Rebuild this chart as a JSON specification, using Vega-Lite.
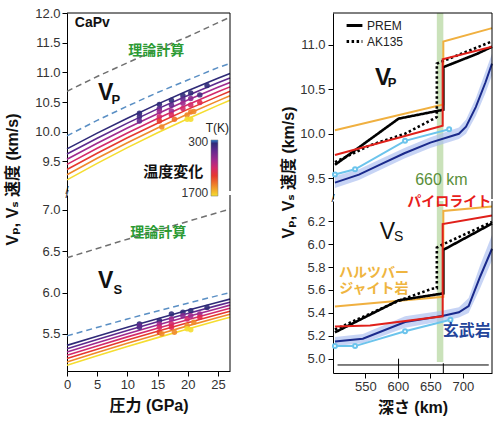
{
  "$schema": "https://vega.github.io/schema/vega-lite/v6.json",
  "padding": {"left": 4, "top": 7, "right": 5, "bottom": 5},
  "background": "white",
  "config": {
    "view": {"stroke": null},
    "font": "Liberation Sans",
    "axis": {"labelFont": "Liberation Sans", "labelFontSize": 13, "labelColor": "#333", "labelOverlap": false, "labelFlush": false, "tickCount": 30, "tickColor": "#000", "domainColor": "#000", "tickSize": 5, "grid": false, "labelPadding": 2, "titleFont": "Liberation Sans, Noto Sans CJK JP, DejaVu Sans", "titleFontSize": 16, "titleFontWeight": "bold", "titleColor": "#111"}
  },
  "datasets": {
    "ld": [
      {"k": "theory", "p": "P", "x": 0, "v": 10.68}, {"k": "theory", "p": "P", "x": 5, "v": 10.93}, {"k": "theory", "p": "P", "x": 10, "v": 11.16}, {"k": "theory", "p": "P", "x": 15, "v": 11.39}, {"k": "theory", "p": "P", "x": 20, "v": 11.6}, {"k": "theory", "p": "P", "x": 27, "v": 11.93},
      {"k": "blue", "p": "P", "x": 0, "v": 9.93}, {"k": "blue", "p": "P", "x": 5, "v": 10.19}, {"k": "blue", "p": "P", "x": 10, "v": 10.43}, {"k": "blue", "p": "P", "x": 15, "v": 10.66}, {"k": "blue", "p": "P", "x": 20, "v": 10.87}, {"k": "blue", "p": "P", "x": 25, "v": 11.08}, {"k": "blue", "p": "P", "x": 27, "v": 11.15},
      {"k": "theory", "p": "S", "x": 0, "v": 6.42}, {"k": "theory", "p": "S", "x": 10, "v": 6.645}, {"k": "theory", "p": "S", "x": 20, "v": 6.86}, {"k": "theory", "p": "S", "x": 27, "v": 7.01},
      {"k": "blue", "p": "S", "x": 0, "v": 5.475}, {"k": "blue", "p": "S", "x": 10, "v": 5.68}, {"k": "blue", "p": "S", "x": 20, "v": 5.87}, {"k": "blue", "p": "S", "x": 27, "v": 6.0}
    ],
    "ll": [
      {"p": "P", "t": 380, "x": 0, "v": 9.71}, {"p": "P", "t": 380, "x": 5, "v": 9.975}, {"p": "P", "t": 380, "x": 10, "v": 10.227}, {"p": "P", "t": 380, "x": 15, "v": 10.464}, {"p": "P", "t": 380, "x": 20, "v": 10.688}, {"p": "P", "t": 380, "x": 25, "v": 10.899}, {"p": "P", "t": 380, "x": 27, "v": 10.98},
      {"p": "P", "t": 550, "x": 0, "v": 9.623}, {"p": "P", "t": 550, "x": 5, "v": 9.89}, {"p": "P", "t": 550, "x": 10, "v": 10.144}, {"p": "P", "t": 550, "x": 15, "v": 10.384}, {"p": "P", "t": 550, "x": 20, "v": 10.61}, {"p": "P", "t": 550, "x": 25, "v": 10.823}, {"p": "P", "t": 550, "x": 27, "v": 10.905},
      {"p": "P", "t": 800, "x": 0, "v": 9.536}, {"p": "P", "t": 800, "x": 5, "v": 9.805}, {"p": "P", "t": 800, "x": 10, "v": 10.062}, {"p": "P", "t": 800, "x": 15, "v": 10.303}, {"p": "P", "t": 800, "x": 20, "v": 10.532}, {"p": "P", "t": 800, "x": 25, "v": 10.747}, {"p": "P", "t": 800, "x": 27, "v": 10.83},
      {"p": "P", "t": 1000, "x": 0, "v": 9.449}, {"p": "P", "t": 1000, "x": 5, "v": 9.721}, {"p": "P", "t": 1000, "x": 10, "v": 9.979}, {"p": "P", "t": 1000, "x": 15, "v": 10.223}, {"p": "P", "t": 1000, "x": 20, "v": 10.454}, {"p": "P", "t": 1000, "x": 25, "v": 10.671}, {"p": "P", "t": 1000, "x": 27, "v": 10.755},
      {"p": "P", "t": 1200, "x": 0, "v": 9.362}, {"p": "P", "t": 1200, "x": 5, "v": 9.636}, {"p": "P", "t": 1200, "x": 10, "v": 9.897}, {"p": "P", "t": 1200, "x": 15, "v": 10.143}, {"p": "P", "t": 1200, "x": 20, "v": 10.376}, {"p": "P", "t": 1200, "x": 25, "v": 10.595}, {"p": "P", "t": 1200, "x": 27, "v": 10.68},
      {"p": "P", "t": 1450, "x": 0, "v": 9.275}, {"p": "P", "t": 1450, "x": 5, "v": 9.551}, {"p": "P", "t": 1450, "x": 10, "v": 9.814}, {"p": "P", "t": 1450, "x": 15, "v": 10.062}, {"p": "P", "t": 1450, "x": 20, "v": 10.297}, {"p": "P", "t": 1450, "x": 25, "v": 10.519}, {"p": "P", "t": 1450, "x": 27, "v": 10.605},
      {"p": "P", "t": 1700, "x": 0, "v": 9.188}, {"p": "P", "t": 1700, "x": 5, "v": 9.466}, {"p": "P", "t": 1700, "x": 10, "v": 9.731}, {"p": "P", "t": 1700, "x": 15, "v": 9.982}, {"p": "P", "t": 1700, "x": 20, "v": 10.219}, {"p": "P", "t": 1700, "x": 25, "v": 10.443}, {"p": "P", "t": 1700, "x": 27, "v": 10.53},
      {"p": "S", "t": 380, "x": 0, "v": 5.36}, {"p": "S", "t": 380, "x": 5, "v": 5.471}, {"p": "S", "t": 380, "x": 10, "v": 5.579}, {"p": "S", "t": 380, "x": 15, "v": 5.683}, {"p": "S", "t": 380, "x": 20, "v": 5.784}, {"p": "S", "t": 380, "x": 25, "v": 5.881}, {"p": "S", "t": 380, "x": 27, "v": 5.92},
      {"p": "S", "t": 550, "x": 0, "v": 5.32}, {"p": "S", "t": 550, "x": 5, "v": 5.432}, {"p": "S", "t": 550, "x": 10, "v": 5.54}, {"p": "S", "t": 550, "x": 15, "v": 5.645}, {"p": "S", "t": 550, "x": 20, "v": 5.746}, {"p": "S", "t": 550, "x": 25, "v": 5.844}, {"p": "S", "t": 550, "x": 27, "v": 5.883},
      {"p": "S", "t": 800, "x": 0, "v": 5.28}, {"p": "S", "t": 800, "x": 5, "v": 5.392}, {"p": "S", "t": 800, "x": 10, "v": 5.501}, {"p": "S", "t": 800, "x": 15, "v": 5.607}, {"p": "S", "t": 800, "x": 20, "v": 5.709}, {"p": "S", "t": 800, "x": 25, "v": 5.807}, {"p": "S", "t": 800, "x": 27, "v": 5.847},
      {"p": "S", "t": 1000, "x": 0, "v": 5.24}, {"p": "S", "t": 1000, "x": 5, "v": 5.353}, {"p": "S", "t": 1000, "x": 10, "v": 5.463}, {"p": "S", "t": 1000, "x": 15, "v": 5.568}, {"p": "S", "t": 1000, "x": 20, "v": 5.671}, {"p": "S", "t": 1000, "x": 25, "v": 5.77}, {"p": "S", "t": 1000, "x": 27, "v": 5.81},
      {"p": "S", "t": 1200, "x": 0, "v": 5.2}, {"p": "S", "t": 1200, "x": 5, "v": 5.313}, {"p": "S", "t": 1200, "x": 10, "v": 5.424}, {"p": "S", "t": 1200, "x": 15, "v": 5.53}, {"p": "S", "t": 1200, "x": 20, "v": 5.634}, {"p": "S", "t": 1200, "x": 25, "v": 5.733}, {"p": "S", "t": 1200, "x": 27, "v": 5.773},
      {"p": "S", "t": 1450, "x": 0, "v": 5.16}, {"p": "S", "t": 1450, "x": 5, "v": 5.274}, {"p": "S", "t": 1450, "x": 10, "v": 5.385}, {"p": "S", "t": 1450, "x": 15, "v": 5.492}, {"p": "S", "t": 1450, "x": 20, "v": 5.596}, {"p": "S", "t": 1450, "x": 25, "v": 5.697}, {"p": "S", "t": 1450, "x": 27, "v": 5.737},
      {"p": "S", "t": 1700, "x": 0, "v": 5.12}, {"p": "S", "t": 1700, "x": 5, "v": 5.235}, {"p": "S", "t": 1700, "x": 10, "v": 5.346}, {"p": "S", "t": 1700, "x": 15, "v": 5.454}, {"p": "S", "t": 1700, "x": 20, "v": 5.558}, {"p": "S", "t": 1700, "x": 25, "v": 5.66}, {"p": "S", "t": 1700, "x": 27, "v": 5.7}
    ],
    "lp": [
      {"p": "P", "x": 12.0, "v": 10.31, "t": 380}, {"p": "P", "x": 12.0, "v": 10.25, "t": 450}, {"p": "P", "x": 12.0, "v": 10.18, "t": 550},
      {"p": "P", "x": 15.3, "v": 10.46, "t": 380}, {"p": "P", "x": 15.3, "v": 10.39, "t": 550}, {"p": "P", "x": 15.3, "v": 10.34, "t": 800}, {"p": "P", "x": 15.3, "v": 10.25, "t": 1000}, {"p": "P", "x": 15.3, "v": 10.18, "t": 1200}, {"p": "P", "x": 15.7, "v": 10.08, "t": 1450},
      {"p": "P", "x": 17.3, "v": 10.53, "t": 380}, {"p": "P", "x": 17.3, "v": 10.45, "t": 550}, {"p": "P", "x": 17.3, "v": 10.35, "t": 800}, {"p": "P", "x": 17.3, "v": 10.28, "t": 1050}, {"p": "P", "x": 17.8, "v": 10.21, "t": 1350},
      {"p": "P", "x": 19.2, "v": 10.61, "t": 380}, {"p": "P", "x": 19.2, "v": 10.55, "t": 550}, {"p": "P", "x": 19.2, "v": 10.48, "t": 800}, {"p": "P", "x": 19.2, "v": 10.39, "t": 1000}, {"p": "P", "x": 19.9, "v": 10.28, "t": 1450}, {"p": "P", "x": 19.9, "v": 10.21, "t": 1700},
      {"p": "P", "x": 20.5, "v": 10.65, "t": 380}, {"p": "P", "x": 20.5, "v": 10.56, "t": 700}, {"p": "P", "x": 20.5, "v": 10.45, "t": 1000}, {"p": "P", "x": 20.5, "v": 10.33, "t": 1400}, {"p": "P", "x": 20.5, "v": 10.21, "t": 1700}, {"p": "P", "x": 21.0, "v": 10.34, "t": 1450},
      {"p": "P", "x": 22.0, "v": 10.62, "t": 450}, {"p": "P", "x": 22.0, "v": 10.49, "t": 1100}, {"p": "P", "x": 23.2, "v": 10.78, "t": 380},
      {"p": "S", "x": 12.0, "v": 5.62, "t": 380}, {"p": "S", "x": 12.0, "v": 5.58, "t": 450}, {"p": "S", "x": 12.0, "v": 5.6, "t": 550},
      {"p": "S", "x": 15.3, "v": 5.66, "t": 380}, {"p": "S", "x": 15.3, "v": 5.62, "t": 800}, {"p": "S", "x": 15.3, "v": 5.58, "t": 1000}, {"p": "S", "x": 15.3, "v": 5.52, "t": 1200}, {"p": "S", "x": 15.7, "v": 5.5, "t": 1450},
      {"p": "S", "x": 17.3, "v": 5.74, "t": 380}, {"p": "S", "x": 17.3, "v": 5.68, "t": 800}, {"p": "S", "x": 17.3, "v": 5.62, "t": 1000}, {"p": "S", "x": 17.3, "v": 5.58, "t": 1100}, {"p": "S", "x": 17.8, "v": 5.52, "t": 1450},
      {"p": "S", "x": 19.2, "v": 5.76, "t": 380}, {"p": "S", "x": 19.2, "v": 5.72, "t": 700}, {"p": "S", "x": 19.9, "v": 5.68, "t": 1000}, {"p": "S", "x": 19.9, "v": 5.6, "t": 1450}, {"p": "S", "x": 19.9, "v": 5.56, "t": 1700},
      {"p": "S", "x": 20.5, "v": 5.78, "t": 380}, {"p": "S", "x": 20.5, "v": 5.72, "t": 800}, {"p": "S", "x": 20.5, "v": 5.55, "t": 1700}, {"p": "S", "x": 21.0, "v": 5.64, "t": 1450},
      {"p": "S", "x": 22.0, "v": 5.74, "t": 800}, {"p": "S", "x": 22.0, "v": 5.7, "t": 1100}, {"p": "S", "x": 23.2, "v": 5.82, "t": 380}
    ],
    "rl": [
      {"p": "P", "s": "harz", "o": 1, "d": 503, "v": 10.04}, {"p": "P", "s": "harz", "o": 2, "d": 670, "v": 10.33}, {"p": "P", "s": "harz", "o": 3, "d": 670, "v": 11.04}, {"p": "P", "s": "harz", "o": 4, "d": 745, "v": 11.19},
      {"p": "P", "s": "pyr", "o": 1, "d": 503, "v": 9.76}, {"p": "P", "s": "pyr", "o": 2, "d": 669, "v": 10.09}, {"p": "P", "s": "pyr", "o": 3, "d": 669, "v": 10.84}, {"p": "P", "s": "pyr", "o": 4, "d": 745, "v": 10.98},
      {"p": "P", "s": "lb", "o": 1, "d": 503, "v": 9.54}, {"p": "P", "s": "lb", "o": 2, "d": 534, "v": 9.6}, {"p": "P", "s": "lb", "o": 3, "d": 611, "v": 9.92}, {"p": "P", "s": "lb", "o": 4, "d": 679, "v": 10.05},
      {"p": "P", "s": "navy", "o": 1, "d": 503, "v": 9.45}, {"p": "P", "s": "navy", "o": 2, "d": 540, "v": 9.54}, {"p": "P", "s": "navy", "o": 3, "d": 575, "v": 9.66}, {"p": "P", "s": "navy", "o": 4, "d": 610, "v": 9.78}, {"p": "P", "s": "navy", "o": 5, "d": 650, "v": 9.9}, {"p": "P", "s": "navy", "o": 6, "d": 694, "v": 10.0}, {"p": "P", "s": "navy", "o": 7, "d": 705, "v": 10.08}, {"p": "P", "s": "navy", "o": 8, "d": 720, "v": 10.3}, {"p": "P", "s": "navy", "o": 9, "d": 735, "v": 10.58}, {"p": "P", "s": "navy", "o": 10, "d": 745, "v": 10.79},
      {"p": "P", "s": "PREM", "o": 1, "d": 503, "v": 9.65}, {"p": "P", "s": "PREM", "o": 2, "d": 601, "v": 10.17}, {"p": "P", "s": "PREM", "o": 3, "d": 670, "v": 10.27}, {"p": "P", "s": "PREM", "o": 4, "d": 670, "v": 10.75}, {"p": "P", "s": "PREM", "o": 5, "d": 722, "v": 10.9}, {"p": "P", "s": "PREM", "o": 6, "d": 745, "v": 10.98},
      {"p": "P", "s": "AK135", "o": 1, "d": 503, "v": 9.68}, {"p": "P", "s": "AK135", "o": 2, "d": 557, "v": 9.87}, {"p": "P", "s": "AK135", "o": 3, "d": 611, "v": 10.0}, {"p": "P", "s": "AK135", "o": 4, "d": 658, "v": 10.18}, {"p": "P", "s": "AK135", "o": 5, "d": 660, "v": 10.19}, {"p": "P", "s": "AK135", "o": 6, "d": 660, "v": 10.79}, {"p": "P", "s": "AK135", "o": 7, "d": 745, "v": 11.04},
      {"p": "S", "s": "harz", "o": 1, "d": 503, "v": 5.455}, {"p": "S", "s": "harz", "o": 2, "d": 670, "v": 5.54}, {"p": "S", "s": "harz", "o": 3, "d": 670, "v": 6.29}, {"p": "S", "s": "harz", "o": 4, "d": 745, "v": 6.33},
      {"p": "S", "s": "pyr", "o": 1, "d": 503, "v": 5.28}, {"p": "S", "s": "pyr", "o": 2, "d": 557, "v": 5.29}, {"p": "S", "s": "pyr", "o": 3, "d": 669, "v": 5.37}, {"p": "S", "s": "pyr", "o": 4, "d": 669, "v": 6.175}, {"p": "S", "s": "pyr", "o": 5, "d": 745, "v": 6.25},
      {"p": "S", "s": "lb", "o": 1, "d": 503, "v": 5.11}, {"p": "S", "s": "lb", "o": 2, "d": 534, "v": 5.11}, {"p": "S", "s": "lb", "o": 3, "d": 611, "v": 5.24}, {"p": "S", "s": "lb", "o": 4, "d": 681, "v": 5.34},
      {"p": "S", "s": "navy", "o": 1, "d": 503, "v": 5.15}, {"p": "S", "s": "navy", "o": 2, "d": 546, "v": 5.175}, {"p": "S", "s": "navy", "o": 3, "d": 611, "v": 5.32}, {"p": "S", "s": "navy", "o": 4, "d": 670, "v": 5.375}, {"p": "S", "s": "navy", "o": 5, "d": 694, "v": 5.405}, {"p": "S", "s": "navy", "o": 6, "d": 709, "v": 5.46}, {"p": "S", "s": "navy", "o": 7, "d": 727, "v": 5.72}, {"p": "S", "s": "navy", "o": 8, "d": 745, "v": 5.96},
      {"p": "S", "s": "PREM", "o": 1, "d": 503, "v": 5.23}, {"p": "S", "s": "PREM", "o": 2, "d": 601, "v": 5.51}, {"p": "S", "s": "PREM", "o": 3, "d": 670, "v": 5.57}, {"p": "S", "s": "PREM", "o": 4, "d": 670, "v": 5.95}, {"p": "S", "s": "PREM", "o": 5, "d": 745, "v": 6.18},
      {"p": "S", "s": "AK135", "o": 1, "d": 503, "v": 5.255}, {"p": "S", "s": "AK135", "o": 2, "d": 601, "v": 5.505}, {"p": "S", "s": "AK135", "o": 3, "d": 652, "v": 5.61}, {"p": "S", "s": "AK135", "o": 4, "d": 660, "v": 5.615}, {"p": "S", "s": "AK135", "o": 5, "d": 660, "v": 5.97}, {"p": "S", "s": "AK135", "o": 6, "d": 670, "v": 6.0}, {"p": "S", "s": "AK135", "o": 7, "d": 745, "v": 6.195}
    ],
    "rb": [
      {"p": "P", "d": 503, "lo": 9.39, "hi": 9.52}, {"p": "P", "d": 540, "lo": 9.48, "hi": 9.6}, {"p": "P", "d": 575, "lo": 9.6, "hi": 9.72}, {"p": "P", "d": 610, "lo": 9.72, "hi": 9.84}, {"p": "P", "d": 650, "lo": 9.84, "hi": 9.96}, {"p": "P", "d": 694, "lo": 9.94, "hi": 10.07}, {"p": "P", "d": 705, "lo": 10.0, "hi": 10.16}, {"p": "P", "d": 720, "lo": 10.2, "hi": 10.4}, {"p": "P", "d": 735, "lo": 10.46, "hi": 10.7}, {"p": "P", "d": 745, "lo": 10.66, "hi": 10.9},
      {"p": "S", "d": 503, "lo": 5.11, "hi": 5.19}, {"p": "S", "d": 546, "lo": 5.135, "hi": 5.215}, {"p": "S", "d": 611, "lo": 5.27, "hi": 5.37}, {"p": "S", "d": 670, "lo": 5.33, "hi": 5.42}, {"p": "S", "d": 694, "lo": 5.36, "hi": 5.45}, {"p": "S", "d": 709, "lo": 5.4, "hi": 5.53}, {"p": "S", "d": 727, "lo": 5.62, "hi": 5.82}, {"p": "S", "d": 745, "lo": 5.86, "hi": 6.08}
    ]
  },
  "spacing": 46,
  "resolve": {"scale": {"x": "independent", "y": "independent", "stroke": "independent", "fill": "independent", "strokeDash": "independent"}},
  "hconcat": [
    {
      "bounds": "flush",
      "spacing": 4,
      "resolve": {"scale": {"x": "independent", "y": "independent", "stroke": "independent", "fill": "independent"}},
      "vconcat": [
        {
          "width": 163, "height": 178,
          "layer": [
            {"data": {"name": "ld"}, "transform": [{"filter": "datum.p == 'P' && datum.k == 'theory'"}],
             "mark": {"type": "line", "color": "#707070", "strokeDash": [6, 4], "strokeWidth": 1.5},
             "encoding": {
               "x": {"field": "x", "type": "quantitative", "scale": {"domain": [0, 27], "nice": false}, "axis": null},
               "y": {"field": "v", "type": "quantitative", "scale": {"domain": [9, 12], "nice": false, "zero": false}, "axis": {"values": [9.5, 10, 10.5, 11, 11.5, 12], "tickCount": 30, "format": ".1f", "title": null, "labelOverlap": false}}}},
            {"data": {"name": "ld"}, "transform": [{"filter": "datum.p == 'P' && datum.k == 'blue'"}],
             "mark": {"type": "line", "color": "#5a8fc4", "strokeDash": [6, 4], "strokeWidth": 1.5},
             "encoding": {"x": {"field": "x", "type": "quantitative"}, "y": {"field": "v", "type": "quantitative"}}},
            {"data": {"name": "ll"}, "transform": [{"filter": "datum.p == 'P'"}],
             "mark": {"type": "line", "strokeWidth": 1.6},
             "encoding": {"x": {"field": "x", "type": "quantitative"}, "y": {"field": "v", "type": "quantitative"},
               "detail": {"field": "t", "type": "nominal"},
               "stroke": {"field": "t", "type": "quantitative",
                 "scale": {"domain": [300, 380, 550, 800, 1000, 1200, 1450, 1700], "range": ["#2f80d0", "#2f2a78", "#5e2a8e", "#a02a8e", "#d42a6a", "#e6392e", "#f08a2a", "#f5dd30"]},
                 "legend": null}}},
            {"data": {"name": "lp"}, "transform": [{"filter": "datum.p == 'P'"}],
             "mark": {"type": "circle", "size": 30, "opacity": 0.9},
             "encoding": {"x": {"field": "x", "type": "quantitative"}, "y": {"field": "v", "type": "quantitative"},
               "fill": {"field": "t", "type": "quantitative", "scale": {"domain": [300, 380, 550, 800, 1000, 1200, 1450, 1700], "range": ["#2f80d0", "#2f2a78", "#5e2a8e", "#a02a8e", "#d42a6a", "#e6392e", "#f08a2a", "#f5dd30"]}, "legend": null}}},
            {"data": {"values": [{}]},
             "mark": {"type": "rect", "stroke": "#777", "strokeWidth": 0.5,
               "fill": {"gradient": "linear", "x1": 0, "y1": 0, "x2": 0, "y2": 1, "stops": [{"offset": 0, "color": "#2f80d0"}, {"offset": 0.06, "color": "#2f2a78"}, {"offset": 0.18, "color": "#5e2a8e"}, {"offset": 0.36, "color": "#a02a8e"}, {"offset": 0.5, "color": "#d42a6a"}, {"offset": 0.64, "color": "#e6392e"}, {"offset": 0.82, "color": "#f08a2a"}, {"offset": 1, "color": "#f5dd30"}]}},
             "encoding": {"x": {"datum": 23.85}, "x2": {"datum": 25.0}, "y": {"datum": 9.86}, "y2": {"datum": 8.915}}},
            {"data": {"values": [{"x": 24.9, "v": 10.06, "label": "T(K)"}]},
             "mark": {"type": "text", "fontSize": 12, "font": "Liberation Sans", "color": "#222"},
             "encoding": {"x": {"field": "x", "type": "quantitative"}, "y": {"field": "v", "type": "quantitative"}, "text": {"field": "label", "type": "nominal"}}},
            {"data": {"values": [{"x": 23.4, "v": 9.83, "label": "300"}, {"x": 23.4, "v": 8.97, "label": "1700"}]},
             "mark": {"type": "text", "fontSize": 12, "font": "Liberation Sans", "color": "#333", "align": "right"},
             "encoding": {"x": {"field": "x", "type": "quantitative"}, "y": {"field": "v", "type": "quantitative"}, "text": {"field": "label", "type": "nominal"}}},
            {"data": {"values": [{}]}, "mark": {"type": "rule", "color": "black", "strokeWidth": 1}, "encoding": {"x": {"datum": 27}}},
            {"data": {"values": [{}]}, "mark": {"type": "rule", "color": "black", "strokeWidth": 1}, "encoding": {"y": {"datum": 12}}},
            {"data": {"values": [{"x": 4.2, "v": 11.83, "label": "CaPv"}]},
             "mark": {"type": "text", "fontSize": 14, "fontWeight": "bold", "font": "Liberation Sans", "color": "#111"},
             "encoding": {"x": {"field": "x", "type": "quantitative"}, "y": {"field": "v", "type": "quantitative"}, "text": {"field": "label", "type": "nominal"}}},
            {"data": {"values": [{"x": 14.8, "v": 11.36, "label": "理論計算"}]},
             "mark": {"type": "text", "fontSize": 14, "fontWeight": "bold", "font": "Noto Sans CJK JP", "color": "#2b9a33"},
             "encoding": {"x": {"field": "x", "type": "quantitative"}, "y": {"field": "v", "type": "quantitative"}, "text": {"field": "label", "type": "nominal"}}},
            {"data": {"values": [{"x": 6.4, "v": 10.66, "label": "V"}]},
             "mark": {"type": "text", "fontSize": 23, "fontWeight": "bold", "font": "Liberation Sans", "color": "#111"},
             "encoding": {"x": {"field": "x", "type": "quantitative"}, "y": {"field": "v", "type": "quantitative"}, "text": {"field": "label", "type": "nominal"}}},
            {"data": {"values": [{"x": 8.1, "v": 10.54, "label": "P"}]},
             "mark": {"type": "text", "fontSize": 13, "fontWeight": "bold", "font": "Liberation Sans", "color": "#111"},
             "encoding": {"x": {"field": "x", "type": "quantitative"}, "y": {"field": "v", "type": "quantitative"}, "text": {"field": "label", "type": "nominal"}}},
            {"data": {"values": [{"x": 17.6, "v": 9.32, "label": "温度変化"}]},
             "mark": {"type": "text", "fontSize": 15, "fontWeight": "bold", "font": "Noto Sans CJK JP", "color": "#111"},
             "encoding": {"x": {"field": "x", "type": "quantitative"}, "y": {"field": "v", "type": "quantitative"}, "text": {"field": "label", "type": "nominal"}}},
            {"data": {"values": [{"x": 0, "v": 9.0, "label": "/"}]},
             "mark": {"type": "text", "fontSize": 11, "font": "Liberation Sans", "color": "#111"},
             "encoding": {"x": {"field": "x", "type": "quantitative"}, "y": {"field": "v", "type": "quantitative"}, "text": {"field": "label", "type": "nominal"}}}
          ]
        },
        {
          "width": 163, "height": 176,
          "layer": [
            {"data": {"name": "ld"}, "transform": [{"filter": "datum.p == 'S' && datum.k == 'theory'"}],
             "mark": {"type": "line", "color": "#707070", "strokeDash": [6, 4], "strokeWidth": 1.5},
             "encoding": {
               "x": {"field": "x", "type": "quantitative", "scale": {"domain": [0, 27], "nice": false}, "axis": {"values": [0, 5, 10, 15, 20, 25], "tickCount": 30, "title": "圧力 (GPa)", "titlePadding": 6, "labelOverlap": false}},
               "y": {"field": "v", "type": "quantitative", "scale": {"domain": [5.05, 7.18], "nice": false, "zero": false}, "axis": {"values": [5.5, 6, 6.5, 7], "tickCount": 30, "format": ".1f", "title": "Vₚ, Vₛ 速度 (km/s)", "titleY": -16, "titleAlign": "center", "titlePadding": 21, "labelOverlap": false}}}},
            {"data": {"name": "ld"}, "transform": [{"filter": "datum.p == 'S' && datum.k == 'blue'"}],
             "mark": {"type": "line", "color": "#5a8fc4", "strokeDash": [6, 4], "strokeWidth": 1.5},
             "encoding": {"x": {"field": "x", "type": "quantitative"}, "y": {"field": "v", "type": "quantitative"}}},
            {"data": {"name": "ll"}, "transform": [{"filter": "datum.p == 'S'"}],
             "mark": {"type": "line", "strokeWidth": 1.6},
             "encoding": {"x": {"field": "x", "type": "quantitative"}, "y": {"field": "v", "type": "quantitative"},
               "detail": {"field": "t", "type": "nominal"},
               "stroke": {"field": "t", "type": "quantitative",
                 "scale": {"domain": [300, 380, 550, 800, 1000, 1200, 1450, 1700], "range": ["#2f80d0", "#2f2a78", "#5e2a8e", "#a02a8e", "#d42a6a", "#e6392e", "#f08a2a", "#f5dd30"]},
                 "legend": null}}},
            {"data": {"name": "lp"}, "transform": [{"filter": "datum.p == 'S'"}],
             "mark": {"type": "circle", "size": 30, "opacity": 0.9},
             "encoding": {"x": {"field": "x", "type": "quantitative"}, "y": {"field": "v", "type": "quantitative"},
               "fill": {"field": "t", "type": "quantitative", "scale": {"domain": [300, 380, 550, 800, 1000, 1200, 1450, 1700], "range": ["#2f80d0", "#2f2a78", "#5e2a8e", "#a02a8e", "#d42a6a", "#e6392e", "#f08a2a", "#f5dd30"]}, "legend": null}}},
            {"data": {"values": [{}]}, "mark": {"type": "rule", "color": "black", "strokeWidth": 1}, "encoding": {"x": {"datum": 27}}},
            {"data": {"values": [{"x": 15.1, "v": 6.72, "label": "理論計算"}]},
             "mark": {"type": "text", "fontSize": 14, "fontWeight": "bold", "font": "Noto Sans CJK JP", "color": "#2b9a33"},
             "encoding": {"x": {"field": "x", "type": "quantitative"}, "y": {"field": "v", "type": "quantitative"}, "text": {"field": "label", "type": "nominal"}}},
            {"data": {"values": [{"x": 6.4, "v": 6.14, "label": "V"}]},
             "mark": {"type": "text", "fontSize": 23, "fontWeight": "bold", "font": "Liberation Sans", "color": "#111"},
             "encoding": {"x": {"field": "x", "type": "quantitative"}, "y": {"field": "v", "type": "quantitative"}, "text": {"field": "label", "type": "nominal"}}},
            {"data": {"values": [{"x": 8.4, "v": 6.03, "label": "S"}]},
             "mark": {"type": "text", "fontSize": 13, "fontWeight": "bold", "font": "Liberation Sans", "color": "#111"},
             "encoding": {"x": {"field": "x", "type": "quantitative"}, "y": {"field": "v", "type": "quantitative"}, "text": {"field": "label", "type": "nominal"}}},
            {"data": {"values": [{"x": 0, "v": 7.18, "label": "/"}]},
             "mark": {"type": "text", "fontSize": 11, "font": "Liberation Sans", "color": "#111"},
             "encoding": {"x": {"field": "x", "type": "quantitative"}, "y": {"field": "v", "type": "quantitative"}, "text": {"field": "label", "type": "nominal"}}}
          ]
        }
      ]
    },
    {
      "bounds": "flush",
      "spacing": 2,
      "resolve": {"scale": {"x": "independent", "y": "independent", "strokeDash": "independent"}},
      "vconcat": [
        {
          "width": 159, "height": 186,
          "layer": [
            {"data": {"values": [{}]}, "mark": {"type": "rect", "color": "#a6cf8c", "opacity": 0.6},
             "encoding": {"x": {"datum": 660, "scale": {"domain": [500, 745], "nice": false}, "axis": null}, "x2": {"datum": 670}}},
            {"data": {"name": "rb"}, "transform": [{"filter": "datum.p == 'P'"}],
             "mark": {"type": "area", "color": "#a9bdf0", "opacity": 0.65},
             "encoding": {"x": {"field": "d", "type": "quantitative"}, "y": {"field": "lo", "type": "quantitative", "scale": {"domain": [9.265, 11.36], "nice": false, "zero": false}, "axis": {"values": [9.5, 10, 10.5, 11], "tickCount": 30, "format": ".1f", "title": null, "labelOverlap": false, "labelPadding": 3}}, "y2": {"field": "hi"}}},
            {"data": {"name": "rl"}, "transform": [{"filter": "datum.p == 'P' && datum.s == 'lb'"}],
             "mark": {"type": "line", "color": "#6cc4ec", "strokeWidth": 2, "point": {"filled": true, "fill": "white", "stroke": "#6cc4ec", "size": 16}},
             "encoding": {"x": {"field": "d", "type": "quantitative"}, "y": {"field": "v", "type": "quantitative"}, "order": {"field": "o"}}},
            {"data": {"name": "rl"}, "transform": [{"filter": "datum.p == 'P' && datum.s == 'navy'"}],
             "mark": {"type": "line", "color": "#1a2a8c", "strokeWidth": 2},
             "encoding": {"x": {"field": "d", "type": "quantitative"}, "y": {"field": "v", "type": "quantitative"}, "order": {"field": "o"}}},
            {"data": {"name": "rl"}, "transform": [{"filter": "datum.p == 'P' && datum.s == 'harz'"}],
             "mark": {"type": "line", "color": "#f0b040", "strokeWidth": 2},
             "encoding": {"x": {"field": "d", "type": "quantitative"}, "y": {"field": "v", "type": "quantitative"}, "order": {"field": "o"}}},
            {"data": {"name": "rl"}, "transform": [{"filter": "datum.p == 'P' && (datum.s == 'PREM' || datum.s == 'AK135')"}],
             "mark": {"type": "line", "color": "black", "strokeWidth": 2.6},
             "encoding": {"x": {"field": "d", "type": "quantitative"}, "y": {"field": "v", "type": "quantitative"}, "order": {"field": "o"},
               "strokeDash": {"field": "s", "type": "nominal", "scale": {"domain": ["PREM", "AK135"], "range": [[1, 0], [2.5, 2.5]]},
                 "legend": {"orient": "none", "legendX": 12, "legendY": 3, "title": null, "symbolType": "stroke", "symbolStrokeColor": "black", "symbolStrokeWidth": 3, "symbolSize": 250, "labelFontSize": 12, "labelFont": "Liberation Sans", "labelColor": "#222", "rowPadding": -1, "padding": 0, "labelOffset": 3}}}},
            {"data": {"name": "rl"}, "transform": [{"filter": "datum.p == 'P' && datum.s == 'pyr'"}],
             "mark": {"type": "line", "color": "#e0201a", "strokeWidth": 2},
             "encoding": {"x": {"field": "d", "type": "quantitative"}, "y": {"field": "v", "type": "quantitative"}, "order": {"field": "o"}}},
            {"data": {"values": [{}]}, "mark": {"type": "rule", "color": "black", "strokeWidth": 1}, "encoding": {"x": {"datum": 745}}},
            {"data": {"values": [{}]}, "mark": {"type": "rule", "color": "black", "strokeWidth": 1}, "encoding": {"y": {"datum": 11.36}}},
            {"data": {"values": [{"d": 577, "v": 10.63, "label": "V"}]},
             "mark": {"type": "text", "fontSize": 24, "fontWeight": "bold", "font": "Liberation Sans", "color": "#111"},
             "encoding": {"x": {"field": "d", "type": "quantitative"}, "y": {"field": "v", "type": "quantitative"}, "text": {"field": "label", "type": "nominal"}}},
            {"data": {"values": [{"d": 591, "v": 10.57, "label": "P"}]},
             "mark": {"type": "text", "fontSize": 13, "fontWeight": "bold", "font": "Liberation Sans", "color": "#111"},
             "encoding": {"x": {"field": "d", "type": "quantitative"}, "y": {"field": "v", "type": "quantitative"}, "text": {"field": "label", "type": "nominal"}}},
            {"data": {"values": [{"d": 667, "v": 9.48, "label": "660 km"}]},
             "mark": {"type": "text", "fontSize": 16, "font": "Liberation Sans", "color": "#5a8f3a"},
             "encoding": {"x": {"field": "d", "type": "quantitative"}, "y": {"field": "v", "type": "quantitative"}, "text": {"field": "label", "type": "nominal"}}},
            {"data": {"values": [{"d": 500, "v": 9.265, "label": "/"}]},
             "mark": {"type": "text", "fontSize": 11, "font": "Liberation Sans", "color": "#111"},
             "encoding": {"x": {"field": "d", "type": "quantitative"}, "y": {"field": "v", "type": "quantitative"}, "text": {"field": "label", "type": "nominal"}}}
          ]
        },
        {
          "width": 159, "height": 172,
          "layer": [
            {"data": {"values": [{}]}, "mark": {"type": "rect", "color": "#a6cf8c", "opacity": 0.6},
             "encoding": {"x": {"datum": 660, "scale": {"domain": [500, 745], "nice": false}, "axis": {"values": [550, 600, 650, 700], "tickCount": 30, "title": "深さ (km)", "titlePadding": 6, "labelOverlap": false}}, "x2": {"datum": 670}, "y": {"datum": 4.97}, "y2": {"datum": 6.377}}},
            {"data": {"name": "rb"}, "transform": [{"filter": "datum.p == 'S'"}],
             "mark": {"type": "area", "color": "#a9bdf0", "opacity": 0.65},
             "encoding": {"x": {"field": "d", "type": "quantitative"}, "y": {"field": "lo", "type": "quantitative", "scale": {"domain": [4.875, 6.377], "nice": false, "zero": false}, "axis": {"values": [5.0, 5.2, 5.4, 5.6, 5.8, 6.0, 6.2], "tickCount": 30, "format": ".1f", "title": "Vₚ, Vₛ 速度 (km/s)", "titleY": -29, "titleAlign": "center", "titlePadding": 10, "labelOverlap": false, "labelPadding": 3}}, "y2": {"field": "hi"}}},
            {"data": {"name": "rl"}, "transform": [{"filter": "datum.p == 'S' && datum.s == 'lb'"}],
             "mark": {"type": "line", "color": "#6cc4ec", "strokeWidth": 2, "point": {"filled": true, "fill": "white", "stroke": "#6cc4ec", "size": 16}},
             "encoding": {"x": {"field": "d", "type": "quantitative"}, "y": {"field": "v", "type": "quantitative"}, "order": {"field": "o"}}},
            {"data": {"name": "rl"}, "transform": [{"filter": "datum.p == 'S' && datum.s == 'navy'"}],
             "mark": {"type": "line", "color": "#1a2a8c", "strokeWidth": 2},
             "encoding": {"x": {"field": "d", "type": "quantitative"}, "y": {"field": "v", "type": "quantitative"}, "order": {"field": "o"}}},
            {"data": {"name": "rl"}, "transform": [{"filter": "datum.p == 'S' && datum.s == 'harz'"}],
             "mark": {"type": "line", "color": "#f0b040", "strokeWidth": 2},
             "encoding": {"x": {"field": "d", "type": "quantitative"}, "y": {"field": "v", "type": "quantitative"}, "order": {"field": "o"}}},
            {"data": {"name": "rl"}, "transform": [{"filter": "datum.p == 'S' && (datum.s == 'PREM' || datum.s == 'AK135')"}],
             "mark": {"type": "line", "color": "black", "strokeWidth": 2.6},
             "encoding": {"x": {"field": "d", "type": "quantitative"}, "y": {"field": "v", "type": "quantitative"}, "order": {"field": "o"},
               "strokeDash": {"field": "s", "type": "nominal", "scale": {"domain": ["PREM", "AK135"], "range": [[1, 0], [2.5, 2.5]]}, "legend": null}}},
            {"data": {"name": "rl"}, "transform": [{"filter": "datum.p == 'S' && datum.s == 'pyr'"}],
             "mark": {"type": "line", "color": "#e0201a", "strokeWidth": 2},
             "encoding": {"x": {"field": "d", "type": "quantitative"}, "y": {"field": "v", "type": "quantitative"}, "order": {"field": "o"}}},
            {"data": {"values": [{}]}, "mark": {"type": "rule", "color": "black", "strokeWidth": 1}, "encoding": {"x": {"datum": 745}}},
            {"data": {"values": [{}]}, "mark": {"type": "rule", "color": "black", "strokeWidth": 1}, "encoding": {"x": {"datum": 507}, "x2": {"datum": 740}, "y": {"datum": 4.945}}},
            {"data": {"values": [{}]}, "mark": {"type": "rule", "color": "black", "strokeWidth": 1}, "encoding": {"x": {"datum": 601}, "y": {"datum": 4.875}, "y2": {"datum": 5.0}}},
            {"data": {"values": [{}]}, "mark": {"type": "rule", "color": "black", "strokeWidth": 1}, "encoding": {"x": {"datum": 670}, "y": {"datum": 4.875}, "y2": {"datum": 4.96}}},
            {"data": {"values": [{"d": 584, "v": 6.11, "label": "V"}]},
             "mark": {"type": "text", "fontSize": 23, "font": "Liberation Sans", "color": "#111"},
             "encoding": {"x": {"field": "d", "type": "quantitative"}, "y": {"field": "v", "type": "quantitative"}, "text": {"field": "label", "type": "nominal"}}},
            {"data": {"values": [{"d": 601, "v": 6.06, "label": "S"}]},
             "mark": {"type": "text", "fontSize": 14, "font": "Liberation Sans", "color": "#111"},
             "encoding": {"x": {"field": "d", "type": "quantitative"}, "y": {"field": "v", "type": "quantitative"}, "text": {"field": "label", "type": "nominal"}}},
            {"data": {"values": [{"d": 679, "v": 6.37, "label": "パイロライト"}]},
             "mark": {"type": "text", "fontSize": 14, "fontWeight": "bold", "font": "Noto Sans CJK JP", "color": "#e8201a"},
             "encoding": {"x": {"field": "d", "type": "quantitative"}, "y": {"field": "v", "type": "quantitative"}, "text": {"field": "label", "type": "nominal"}}},
            {"data": {"values": [{"d": 563, "v": 5.75, "label": "ハルツバー"}, {"d": 563, "v": 5.61, "label": "ジャイト岩"}]},
             "mark": {"type": "text", "fontSize": 14, "fontWeight": "bold", "font": "Noto Sans CJK JP", "color": "#efb540"},
             "encoding": {"x": {"field": "d", "type": "quantitative"}, "y": {"field": "v", "type": "quantitative"}, "text": {"field": "label", "type": "nominal"}}},
            {"data": {"values": [{"d": 706, "v": 5.245, "label": "玄武岩"}]},
             "mark": {"type": "text", "fontSize": 16, "fontWeight": "bold", "font": "Noto Sans CJK JP", "color": "#23449a"},
             "encoding": {"x": {"field": "d", "type": "quantitative"}, "y": {"field": "v", "type": "quantitative"}, "text": {"field": "label", "type": "nominal"}}}
          ]
        }
      ]
    }
  ]
}
